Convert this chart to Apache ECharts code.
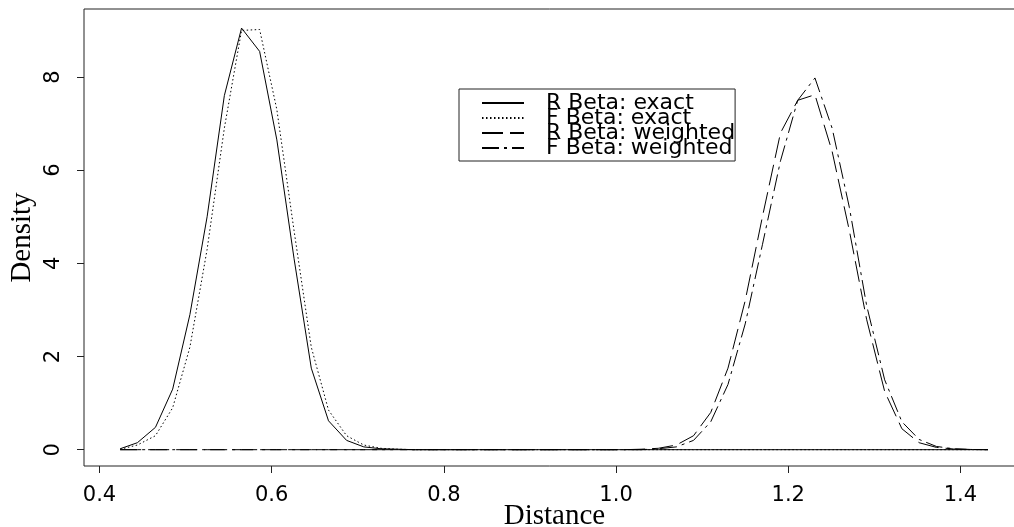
<!DOCTYPE html>
<html>
<head>
<meta charset="utf-8">
<script src="https://cdn.jsdelivr.net/npm/echarts@6/dist/echarts.min.js"></script>
<style>
html,body{margin:0;padding:0;background:#fff;}
#chart{width:1014px;height:527px;}
</style>
</head>
<body>
<div id="chart"></div>
<script>
// Evaluation grid (Distance)
var distance = [0.424,0.444,0.465,0.485,0.505,0.525,0.545,0.565,0.586,0.606,
  0.626,0.646,0.666,0.687,0.707,0.727,0.747,0.767,0.787,0.808,
  0.828,0.848,0.868,0.888,0.908,0.929,0.949,0.969,0.989,1.009,
  1.029,1.049,1.070,1.090,1.110,1.130,1.150,1.170,1.191,1.211,
  1.231,1.251,1.271,1.291,1.312,1.332,1.352,1.372,1.392,1.412,1.432];

var rBetaExact = [0.02,0.15,0.48,1.3,2.9,5.0,7.6,9.05,8.55,6.65,
  4.1,1.75,0.62,0.2,0.06,0.02,0.01,0,0,0,
  0,0,0,0,0,0,0,0,0,0,
  0,0,0,0,0,0,0,0,0,0,
  0,0,0,0,0,0,0,0,0,0,0];

var fBetaExact = [0.01,0.1,0.3,0.9,2.2,4.3,6.9,9.0,9.02,7.3,
  4.7,2.2,0.85,0.3,0.1,0.03,0.01,0,0,0,
  0,0,0,0,0,0,0,0,0,0,
  0,0,0,0,0,0,0,0,0,0,
  0,0,0,0,0,0,0,0,0,0,0];

var rBetaWeighted = [0,0,0,0,0,0,0,0,0,0,
  0,0,0,0,0,0,0,0,0,0,
  0,0,0,0,0,0,0,0,0,0,
  0.01,0.03,0.1,0.3,0.8,1.75,3.2,5.0,6.8,7.5,
  7.62,6.4,4.7,2.8,1.25,0.45,0.15,0.05,0.015,0.005,0];

var fBetaWeighted = [0,0,0,0,0,0,0,0,0,0,
  0,0,0,0,0,0,0,0,0,0,
  0,0,0,0,0,0,0,0,0,0,
  0,0.02,0.06,0.2,0.6,1.4,2.7,4.4,6.2,7.5,
  7.98,6.9,5.2,3.1,1.5,0.6,0.22,0.07,0.02,0.005,0];

var seriesNames = ['R Beta: exact','F Beta: exact','R Beta: weighted','F Beta: weighted'];
var xTicks = [0.4,0.6,0.8,1.0,1.2,1.4];
var yTicks = [0,2,4,6,8];

function pairs(ys){ return distance.map(function(x,i){ return [x, ys[i]]; }); }

var dashes = ['solid',[1.5,2.5],[21,7],[17,5,3,5]];
var allData = [rBetaExact,fBetaExact,rBetaWeighted,fBetaWeighted];

var chart = echarts.init(document.getElementById('chart'));
chart.setOption({
  animation:false,
  backgroundColor:'#fff',
  grid:{left:84,right:-11,top:9,bottom:61,containLabel:false,outerBoundsMode:'none',
    show:true,borderColor:'#222',borderWidth:1,backgroundColor:'transparent'},
  legend:{
    orient:'vertical',left:459,top:89,
    data:seriesNames,
    itemWidth:42,itemHeight:14,itemGap:-7,
    padding:[3,0,2,22],
    borderColor:'#222',borderWidth:1,
    itemStyle:{color:'transparent',borderWidth:0,opacity:0},
    textStyle:{fontFamily:'DejaVu Sans',fontSize:22,color:'#000',padding:[0,0,0,17]},
    selectedMode:false
  },
  xAxis:{
    type:'value',min:0.382,max:1.475,
    name:'Distance',nameLocation:'middle',nameGap:36,nameMoveOverlap:false,
    nameTextStyle:{fontFamily:'Liberation Serif',fontSize:29,color:'#000'},
    axisLine:{show:false,onZero:false},
    splitLine:{show:false},
    axisTick:{show:true,length:7,lineStyle:{color:'#222'},customValues:xTicks},
    axisLabel:{color:'#000',fontFamily:'DejaVu Sans',fontSize:21,margin:19,customValues:xTicks,
      formatter:function(v){return v.toFixed(1);}}
  },
  yAxis:{
    type:'value',min:-0.35,max:9.46,
    name:'Density',nameLocation:'middle',nameRotate:90,nameGap:47,nameMoveOverlap:false,
    nameTextStyle:{fontFamily:'Liberation Serif',fontSize:29,color:'#000'},
    axisLine:{show:false,onZero:false},
    splitLine:{show:false},
    axisTick:{show:true,length:7,lineStyle:{color:'#222'},customValues:yTicks},
    axisLabel:{color:'#000',fontFamily:'DejaVu Sans',fontSize:21,margin:20,rotate:90,customValues:yTicks,
      formatter:function(v){return String(v);}}
  },
  series:seriesNames.map(function(n,i){
    return {
      name:n,type:'line',data:pairs(allData[i]),
      symbol:'none',showSymbol:false,
      lineStyle:{color:'#000',width:1,type:dashes[i]},
      itemStyle:{color:'#000'}
    };
  })
});
</script>
</body>
</html>
